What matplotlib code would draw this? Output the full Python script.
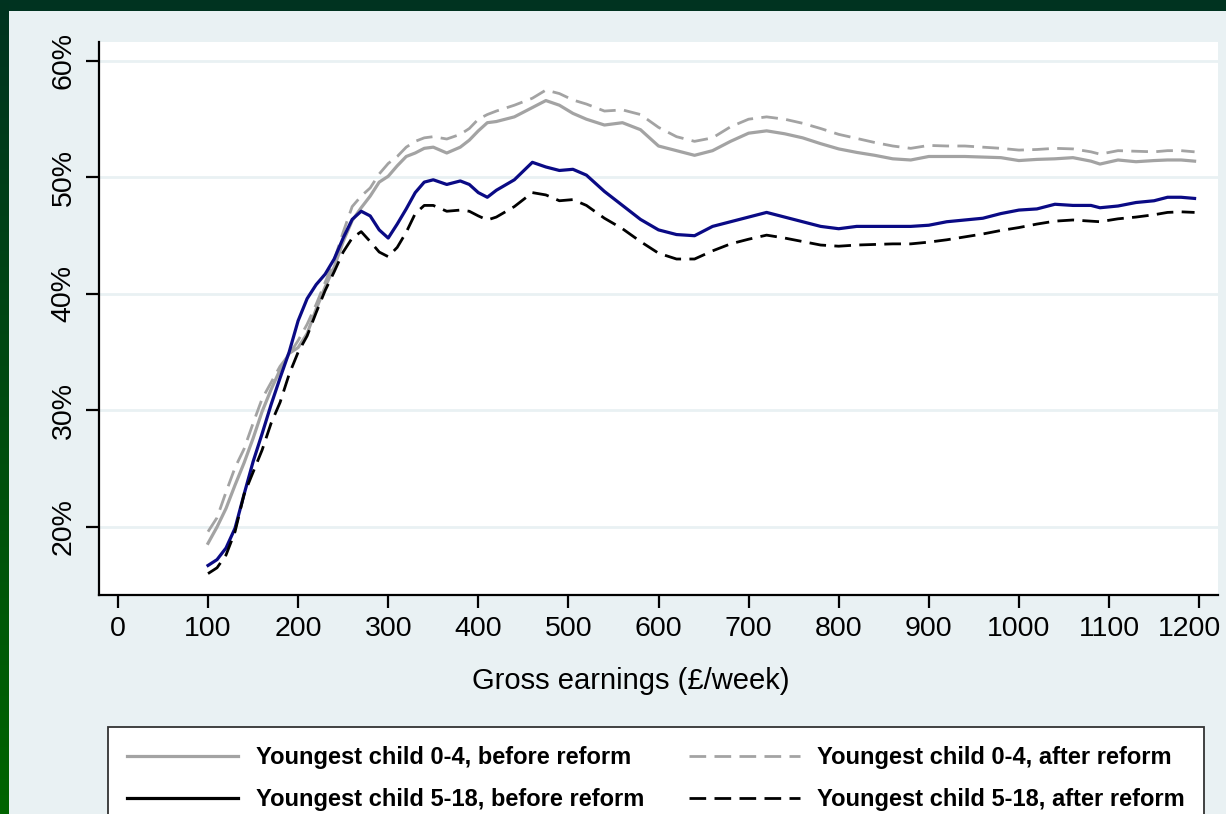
import numpy as np
import matplotlib
matplotlib.use("Agg")
import matplotlib.pyplot as plt
from matplotlib.lines import Line2D
from matplotlib.ticker import FuncFormatter
from matplotlib.transforms import ScaledTranslation

plt.rcParams['font.family'] = ['Liberation Sans', 'DejaVu Sans']

# gross earnings (GBP/week)
earnings = [100, 110, 120, 130, 140, 150, 160, 170, 180, 190, 200, 210, 220, 230, 240,
            250, 260, 270, 280, 290, 300, 310, 320, 330, 340, 350, 365, 380, 390, 400,
            410, 420, 440, 460, 475, 490, 505, 520, 540, 560, 580, 600, 620, 640, 660,
            680, 700, 720, 740, 760, 780, 800, 820, 840, 860, 880, 900, 920, 940, 960,
            980, 1000, 1020, 1040, 1060, 1080, 1090, 1110, 1130, 1150, 1165, 1180, 1195]

young04_before = [18.6, 20.0, 21.6, 23.6, 25.5, 27.6, 29.9, 31.8, 33.5, 34.9, 35.4, 36.6, 38.7, 40.6, 42.3,
                  44.5, 46.3, 47.4, 48.4, 49.6, 50.1, 51.0, 51.8, 52.1, 52.5, 52.6, 52.1, 52.6, 53.2, 54.0,
                  54.7, 54.8, 55.2, 56.0, 56.6, 56.2, 55.5, 55.0, 54.5, 54.7, 54.1, 52.7, 52.3, 51.9, 52.3,
                  53.1, 53.8, 54.0, 53.75, 53.4, 52.9, 52.45, 52.15, 51.9, 51.6, 51.5, 51.8, 51.8, 51.8, 51.75,
                  51.7, 51.45, 51.55, 51.6, 51.7, 51.4, 51.15, 51.5, 51.35, 51.45, 51.5, 51.5, 51.4]

young04_after = [19.6, 20.8, 23.0, 25.1, 26.7, 28.9, 31.0, 32.4, 33.8, 34.8, 36.0, 37.4, 39.1, 41.0, 42.9,
                 45.3, 47.5, 48.4, 49.1, 50.3, 51.2, 51.8, 52.6, 53.1, 53.4, 53.5, 53.3, 53.7, 54.2, 55.0,
                 55.4, 55.7, 56.2, 56.8, 57.5, 57.2, 56.65, 56.3, 55.7, 55.8, 55.4, 54.3, 53.5, 53.1, 53.4,
                 54.35, 55.0, 55.2, 55.0, 54.65, 54.2, 53.7, 53.35, 53.0, 52.7, 52.5, 52.75, 52.7, 52.7, 52.6,
                 52.5, 52.35, 52.4, 52.5, 52.45, 52.2, 52.0, 52.3, 52.25, 52.2, 52.3, 52.3, 52.2]

young518_before = [16.7, 17.2, 18.2, 19.9, 22.8, 25.6, 28.0, 30.5, 32.8, 35.0, 37.7, 39.6, 40.8, 41.7, 43.0,
                   44.8, 46.4, 47.1, 46.7, 45.5, 44.8, 46.0, 47.3, 48.7, 49.6, 49.8, 49.4, 49.7, 49.4, 48.7,
                   48.3, 48.9, 49.8, 51.3, 50.9, 50.6, 50.7, 50.2, 48.8, 47.6, 46.4, 45.5, 45.1, 45.0, 45.8,
                   46.2, 46.6, 47.0, 46.6, 46.2, 45.8, 45.6, 45.8, 45.8, 45.8, 45.8, 45.9, 46.2, 46.35, 46.5,
                   46.9, 47.2, 47.3, 47.7, 47.6, 47.6, 47.4, 47.55, 47.85, 48.0, 48.3, 48.3, 48.2]

young518_after = [16.0, 16.5, 17.6, 19.6, 22.8, 24.7, 26.6, 28.9, 30.7, 33.1, 35.0, 36.4, 38.4, 40.3, 41.9,
                  43.6, 44.8, 45.35, 44.5, 43.6, 43.2, 44.0, 45.3, 46.9, 47.6, 47.6, 47.1, 47.2, 47.1, 46.7,
                  46.35, 46.6, 47.5, 48.7, 48.5, 48.0, 48.1, 47.6, 46.5, 45.6, 44.5, 43.5, 43.0, 43.0, 43.7,
                  44.3, 44.7, 45.05, 44.8, 44.5, 44.2, 44.1, 44.2, 44.25, 44.3, 44.3, 44.45, 44.65, 44.9, 45.15,
                  45.45, 45.7, 46.0, 46.25, 46.35, 46.25, 46.2, 46.45, 46.6, 46.8, 47.0, 47.05, 47.0]

labels = ["Youngest child 0-4, before reform", "Youngest child 0-4, after reform",
          "Youngest child 5-18, before reform", "Youngest child 5-18, after reform"]

bg = '#e9f1f3'
gray = '#a3a3a3'
navy = '#0a0a85'
dash = (0, (6, 3))

fig = plt.figure(figsize=(12.26, 8.14), dpi=100, facecolor=bg)

# dark green frame: top strip and a gradient strip down the left
top = fig.add_axes([0, 1 - 11 / 814, 1, 11 / 814])
top.set_axis_off()
top.add_patch(plt.Rectangle((0, 0), 1, 1, color='#003320', transform=top.transAxes))
side = fig.add_axes([0, 0, 9 / 1226, 1])
side.set_axis_off()
grad = np.linspace(0, 1, 256).reshape(-1, 1)
cmap = matplotlib.colors.LinearSegmentedColormap.from_list('g', ['#003320', '#006400'])
side.imshow(grad, aspect='auto', cmap=cmap, extent=[0, 1, 0, 1])

ax = fig.add_axes([99 / 1226, 1 - 594.7 / 814, 1119 / 1226, (594.7 - 42.3) / 814])
ax.set_facecolor('white')

ax.plot(earnings, young04_before, color=gray, lw=2.3, zorder=3)
ax.plot(earnings, young04_after, color=gray, lw=2.0, ls=dash, zorder=3)
ax.plot(earnings, young518_before, color=navy, lw=2.3, zorder=4)
ax.plot(earnings, young518_after, color='black', lw=2.0, ls=dash, zorder=4)

ax.set_xlim(-21, 1221)
ax.set_ylim(14.19, 61.6)
ax.set_xticks(range(0, 1201, 100))
ax.set_yticks([20, 30, 40, 50, 60])
ax.yaxis.set_major_formatter(FuncFormatter(lambda v, p: f"{v:.0f}%"))
ax.grid(axis='y', color=bg, lw=2)
ax.set_axisbelow(True)

for s in ['top', 'right']:
    ax.spines[s].set_visible(False)
for s in ['left', 'bottom']:
    ax.spines[s].set_linewidth(1.6)
ax.tick_params(axis='both', length=9.5, width=1.6, labelsize=20.5, colors='black')
ax.tick_params(axis='x', pad=6)
ax.tick_params(axis='y', pad=6.5)
for t in ax.get_yticklabels():
    t.set_rotation(90)
    t.set_va('center')
# keep the last x label inside the figure
last = ax.get_xticklabels()[-1]
last.set_transform(last.get_transform() + ScaledTranslation(-10 / 100, 0, fig.dpi_scale_trans))

ax.set_xlabel("Gross earnings (£/week)", fontsize=21)
ax.xaxis.set_label_coords(0.475, -0.13)

handles = [Line2D([], [], color=gray, lw=2.3),
           Line2D([], [], color='black', lw=2.3),
           Line2D([], [], color=gray, lw=2.0, ls=dash),
           Line2D([], [], color='black', lw=2.0, ls=dash)]
leg = fig.legend(handles, [labels[0], labels[2], labels[1], labels[3]], ncol=2,
                 loc='upper left', bbox_to_anchor=(108 / 1226, 1 - 727 / 814),
                 prop={'weight': 'bold', 'size': 17}, frameon=True, fancybox=False,
                 framealpha=1, handlelength=4.7, handletextpad=0.75, columnspacing=1.9,
                 borderpad=0.8, labelspacing=0.8, borderaxespad=0)
leg.get_frame().set_edgecolor('#333333')
leg.get_frame().set_facecolor('white')
leg.get_frame().set_linewidth(1.3)

fig.savefig("out.png", dpi=100, facecolor=bg)
